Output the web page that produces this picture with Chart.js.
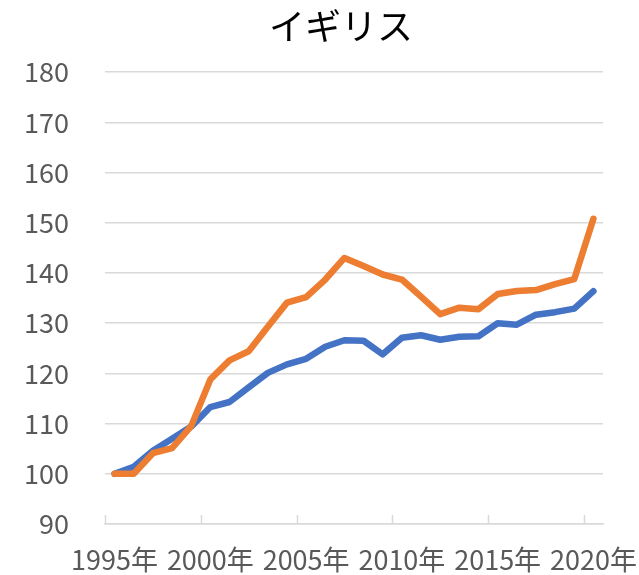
<!DOCTYPE html>
<html>
<head>
<meta charset="utf-8">
<script src="https://cdn.jsdelivr.net/npm/chart.js@4"></script>
<style>
  html, body { margin: 0; padding: 0; background: #fff; }
  #wrap { width: 639px; height: 575px; }
</style>
</head>
<body>
<div id="wrap"><canvas id="chart"></canvas></div>
<script>
// 年（カテゴリ）
const years = [1995, 1996, 1997, 1998, 1999, 2000, 2001, 2002, 2003, 2004,
               2005, 2006, 2007, 2008, 2009, 2010, 2011, 2012, 2013, 2014,
               2015, 2016, 2017, 2018, 2019, 2020];
const yearLabels = years.map(y => y + '年');

// 系列（1995年 = 100）
const blueValues = [100, 101.4, 104.6, 107, 109.4, 113.3, 114.3, 117.2, 120.1, 121.8,
                    122.9, 125.3, 126.6, 126.5, 123.8, 127.1, 127.6, 126.7, 127.3, 127.4,
                    130, 129.7, 131.7, 132.2, 132.9, 136.4];
const orangeValues = [100, 100, 104.1, 105.1, 109.5, 118.8, 122.6, 124.4, 129.3, 134.1,
                      135.2, 138.7, 143, 141.4, 139.7, 138.7, 135.3, 131.8, 133.1, 132.8,
                      135.8, 136.4, 136.6, 137.8, 138.8, 150.8];

const yMin = 90, yMax = 180, yStep = 10;

const FONT = '"Noto Sans CJK JP", "Noto Sans", sans-serif';
const GRID = '#d9d9d9';

// カテゴリ境界に上向きの目盛りを描く
const upTicks = {
    id: 'upTicks',
    afterDatasetsDraw(chart) {
        const xs = chart.scales.x;
        const bottom = chart.chartArea.bottom;
        const step = xs.getPixelForValue(1) - xs.getPixelForValue(0);
        const ctx = chart.ctx;
        ctx.save();
        ctx.strokeStyle = GRID;
        ctx.lineWidth = 1.5;
        years.forEach((y, i) => {
            if (i % 5 !== 0) return;
            const x = Math.round(xs.getPixelForValue(i) - step / 2) + 0.5;
            ctx.beginPath();
            ctx.moveTo(x, bottom);
            ctx.lineTo(x, bottom - 9);
            ctx.stroke();
        });
        ctx.restore();
    }
};

// Excel風にタイトルを少し右寄りに
const shiftTitle = {
    id: 'shiftTitle',
    afterLayout(chart) {
        chart.titleBlock.left += 79;
    }
};

new Chart(document.getElementById('chart'), {
    type: 'line',
    data: {
        labels: yearLabels,
        datasets: [
            {
                label: '系列2',
                data: orangeValues,
                borderColor: '#ED7D31',
                borderWidth: 6.5,
                borderCapStyle: 'round',
                borderJoinStyle: 'round',
                pointRadius: 0,
                tension: 0
            },
            {
                label: '系列1',
                data: blueValues,
                borderColor: '#4472C4',
                borderWidth: 6.5,
                borderCapStyle: 'round',
                borderJoinStyle: 'round',
                pointRadius: 0,
                tension: 0
            }
        ]
    },
    options: {
        responsive: true,
        maintainAspectRatio: false,
        animation: false,
        layout: { padding: { left: 0, right: 36, top: 0, bottom: 0 } },
        plugins: {
            legend: { display: false },
            tooltip: { enabled: false },
            title: {
                display: true,
                text: 'イギリス',
                color: '#000',
                font: { family: FONT, size: 36, weight: 'normal', lineHeight: 1.2 },
                padding: { top: 5, bottom: 24 }
            }
        },
        scales: {
            x: {
                type: 'category',
                offset: true,
                grid: { display: false },
                border: { display: true, color: GRID, width: 1.5 },
                ticks: {
                    autoSkip: false,
                    maxRotation: 0,
                    padding: 12,
                    color: '#595959',
                    font: { family: FONT, size: 27 },
                    callback: (v, i) => (i % 5 === 0 ? yearLabels[i] : '')
                },
                afterFit: (s) => { s.height = 51; s.paddingLeft = 0; s.paddingRight = 0; }
            },
            y: {
                min: yMin,
                max: yMax,
                grid: { color: GRID, lineWidth: 1.5, drawTicks: false },
                border: { display: false },
                ticks: {
                    stepSize: yStep,
                    padding: 36,
                    color: '#595959',
                    font: { family: FONT, size: 27 }
                },
                afterFit: (s) => { s.width = 105; s.paddingTop = 0; s.paddingBottom = 0; }
            }
        }
    },
    plugins: [upTicks, shiftTitle]
});
</script>
</body>
</html>
